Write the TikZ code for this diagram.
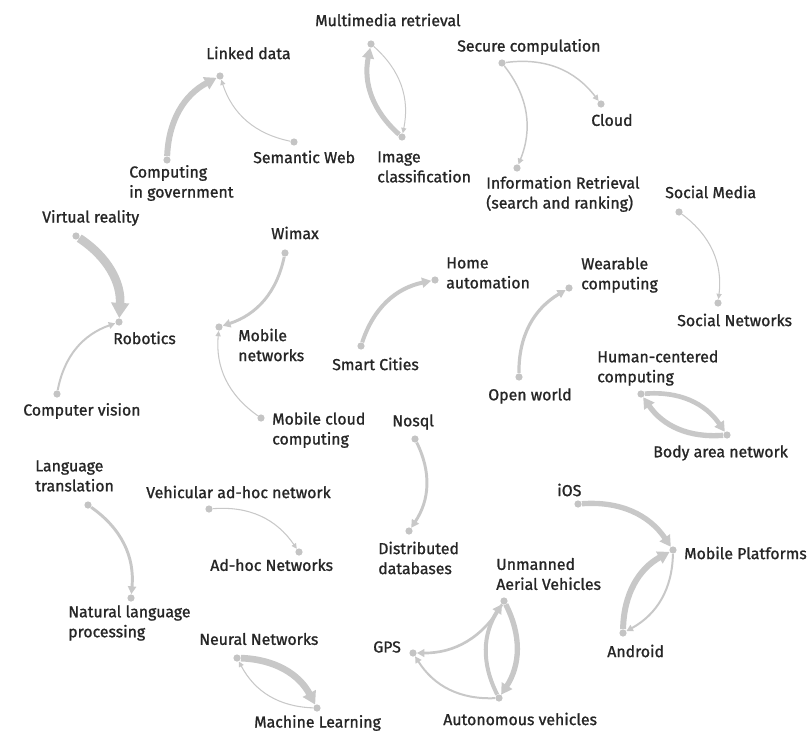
\documentclass[tikz,border=0pt]{standalone}
\usepackage{fontspec}
\newfontfamily\lblfont{Fira Sans}[FakeBold=1.2]
\usetikzlibrary{arrows.meta}
\definecolor{linegray}{HTML}{C8C8C8}
\definecolor{dotgray}{HTML}{C4C4C4}
\definecolor{textgray}{HTML}{262626}
\tikzset{
  dot/.style={circle, fill=dotgray, inner sep=0pt, minimum size=5.4pt},
  lbl/.style={anchor=west, inner sep=0pt, text=textgray, align=left,
              font=\lblfont\fontsize{11.9}{15}\selectfont},
  link/.style={draw=linegray, line width=#1, bend left=30,
               -{Triangle[length=3pt 1.3, width=2.6pt 1.6]}},
}
\begin{document}
\begin{tikzpicture}[x=0.75pt, y=-0.75pt]
\useasboundingbox (0,0) rectangle (808,732);

% topic points
\node[dot] (mm)   at (371,44)  {};
\node[dot] (ld)   at (220,76)  {};
\node[dot] (sw)   at (294,142) {};
\node[dot] (cg)   at (167,160) {};
\node[dot] (ic)   at (402,137) {};
\node[dot] (sc)   at (502,63)  {};
\node[dot] (cl)   at (601,104) {};
\node[dot] (ir)   at (517,168) {};
\node[dot] (smd)  at (679,212) {};
\node[dot] (sn)   at (718,303) {};
\node[dot] (vr)   at (76,236)  {};
\node[dot] (rob)  at (119,322) {};
\node[dot] (cv)   at (57,394)  {};
\node[dot] (wim)  at (285,253) {};
\node[dot] (mn)   at (219,327) {};
\node[dot] (mcc)  at (261,418) {};
\node[dot] (ha)   at (435,280) {};
\node[dot] (scty) at (361,346) {};
\node[dot] (wc)   at (569,288) {};
\node[dot] (ow)   at (519,377) {};
\node[dot] (hcc)  at (641,394) {};
\node[dot] (ban)  at (727,435) {};
\node[dot] (nos)  at (415,439) {};
\node[dot] (dd)   at (409,531) {};
\node[dot] (lt)   at (88,505)  {};
\node[dot] (nlp)  at (131,598) {};
\node[dot] (van)  at (209,509) {};
\node[dot] (ahn)  at (299,552) {};
\node[dot] (nn)   at (237,658) {};
\node[dot] (ml)   at (317,708) {};
\node[dot] (ios)  at (578,504) {};
\node[dot] (mp)   at (673,550) {};
\node[dot] (and)  at (623,633) {};
\node[dot] (uav)  at (504,601) {};
\node[dot] (gps)  at (413,653) {};
\node[dot] (av)   at (499,698) {};

% topic names
\node[lbl] (mm-l)   at (315,20)  {Multimedia retrieval};
\node[lbl] (ld-l)   at (206,53)  {Linked data};
\node[lbl] (sw-l)   at (253,157) {Semantic Web};
\node[lbl] (cg-l)   at (129,183) {Computing\\in government};
\node[lbl] (ic-l)   at (377,167) {Image\\classification};
\node[lbl] (sc-l)   at (457,47)  {Secure compulation};
\node[lbl] (cl-l)   at (591,120) {Cloud};
\node[lbl] (ir-l)   at (486,194) {Information Retrieval\\(search and ranking)};
\node[lbl] (smd-l)  at (665,192) {Social Media};
\node[lbl] (sn-l)   at (677,320) {Social Networks};
\node[lbl] (vr-l)   at (42,218)  {Virtual reality};
\node[lbl] (rob-l)  at (113,338) {Robotics};
\node[lbl] (cv-l)   at (23,411)  {Computer vision};
\node[lbl] (wim-l)  at (271,233) {Wimax};
\node[lbl] (mn-l)   at (238,345) {Mobile\\networks};
\node[lbl] (mcc-l)  at (272,430) {Mobile cloud\\computing};
\node[lbl] (ha-l)   at (446,273) {Home\\automation};
\node[lbl] (scty-l) at (332,364) {Smart Cities};
\node[lbl] (wc-l)   at (581,275) {Wearable\\computing};
\node[lbl] (ow-l)   at (488,396) {Open world};
\node[lbl] (hcc-l)  at (597,368) {Human-centered\\computing};
\node[lbl] (ban-l)  at (653,453) {Body area network};
\node[lbl] (nos-l)  at (392,422) {Nosql};
\node[lbl] (dd-l)   at (378,558) {Distributed\\databases};
\node[lbl] (lt-l)   at (35,476)  {Language\\translation};
\node[lbl] (nlp-l)  at (68,623)  {Natural language\\processing};
\node[lbl] (van-l)  at (146,492) {Vehicular ad-hoc network};
\node[lbl] (ahn-l)  at (210,565) {Ad-hoc Networks};
\node[lbl] (nn-l)   at (199,639) {Neural Networks};
\node[lbl] (ml-l)   at (254,723) {Machine Learning};
\node[lbl] (ios-l)  at (557,490) {iOS};
\node[lbl] (mp-l)   at (684,553) {Mobile Platforms};
\node[lbl] (and-l)  at (607,651) {Android};
\node[lbl] (uav-l)  at (496,574) {Unmanned\\Aerial Vehicles};
\node[lbl] (gps-l)  at (373,647) {GPS};
\node[lbl] (av-l)   at (443,719) {Autonomous vehicles};

% directed links
\draw[link=4.5pt]  (cg)   to (ld);
\draw[link=0.75pt] (sw)   to (ld);
\draw[link=3.75pt] (ic)   to (mm);
\draw[link=0.75pt] (mm)   to (ic);
\draw[link=1.1pt]  (sc)   to (cl);
\draw[link=1.1pt]  (sc)   to (ir);
\draw[link=0.8pt]  (smd)  to (sn);
\draw[link=6.5pt]  (vr)   to (rob);
\draw[link=1.5pt]  (cv)   to (rob);
\draw[link=2.2pt]  (wim)  to (mn);
\draw[link=0.8pt]  (mcc)  to (mn);
\draw[link=3pt]    (scty) to (ha);
\draw[link=2.4pt]  (ow)   to (wc);
\draw[link=3.5pt]  (hcc)  to (ban);
\draw[link=4pt]    (ban)  to (hcc);
\draw[link=2.2pt]  (nos)  to (dd);
\draw[link=2.2pt]  (lt)   to (nlp);
\draw[link=0.8pt]  (van)  to (ahn);
\draw[link=5pt]    (nn)   to (ml);
\draw[link=0.8pt]  (ml)   to (nn);
\draw[link=4pt]    (ios)  to (mp);
\draw[link=4.5pt]  (and)  to (mp);
\draw[link=1.5pt]  (mp)   to (and);
\draw[link=4pt]    (uav)  to (av);
\draw[link=3pt]    (av)   to (uav);
\draw[link=2pt]    (uav)  to (gps);
\draw[link=1.5pt]  (av)   to (gps);
\end{tikzpicture}
\end{document}
